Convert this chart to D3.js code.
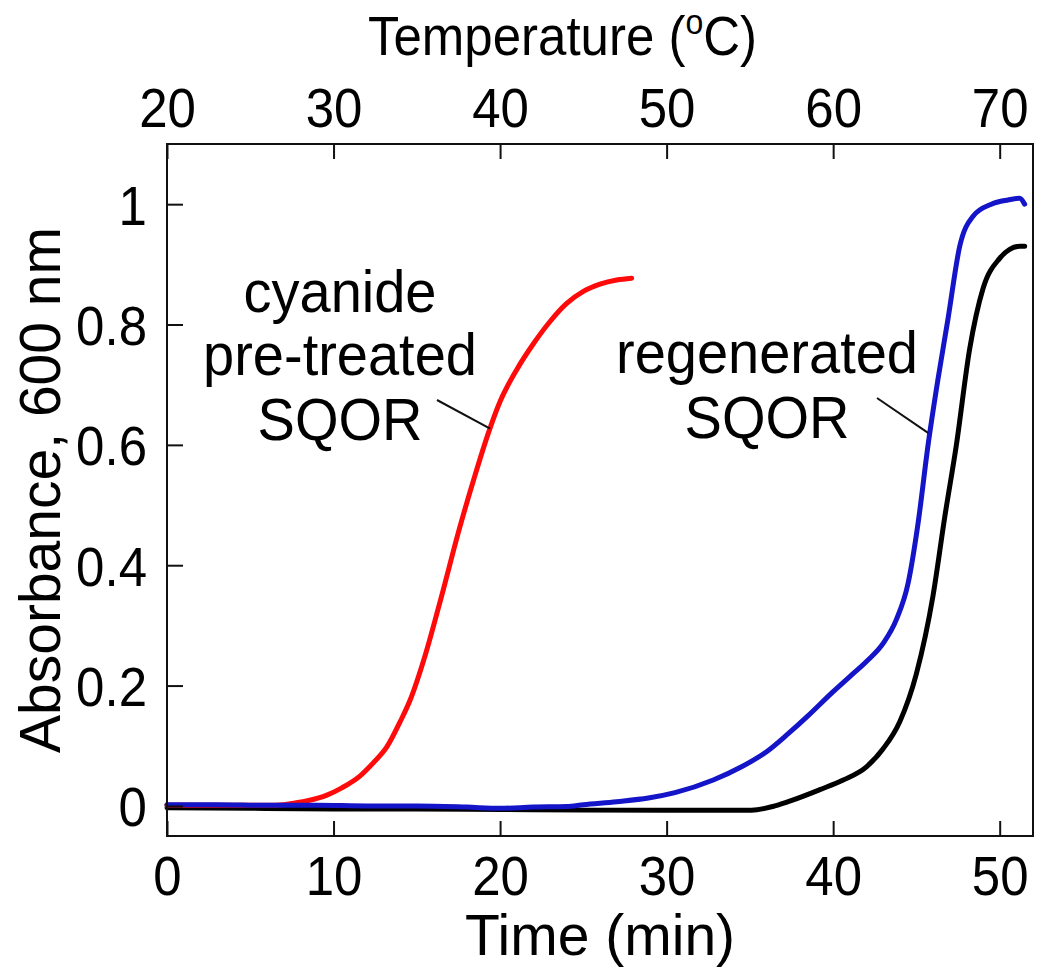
<!DOCTYPE html>
<html>
<head>
<meta charset="utf-8">
<script src="https://cdn.jsdelivr.net/npm/d3@7"></script>
<style>
  html, body { margin: 0; padding: 0; background: #fff; }
  svg { display: block; font-family: "Liberation Sans", Arial, Helvetica, sans-serif; }
</style>
</head>
<body>
<svg id="chart" width="1050" height="980"></svg>
<script>
// ---- data ----
const timeTicks = [0, 10, 20, 30, 40, 50];
const tempTicks = [20, 30, 40, 50, 60, 70];
const absTicks = [0, 0.2, 0.4, 0.6, 0.8, 1];

const redTime = [0, 2, 4, 6, 7, 7.7, 8.5, 9.6, 10.5, 11.6, 12.4, 13.2, 14, 14.6, 15.5, 16.5, 17.5, 18.5, 19.3, 20.0, 21.0, 22.0, 23.0, 24.0, 25.0, 26.0, 27.0, 27.9];
const redAbs  = [0.001, 0.001, 0.001, 0.001, 0.002, 0.005, 0.009, 0.018, 0.03, 0.05, 0.072, 0.098, 0.14, 0.176, 0.25, 0.35, 0.455, 0.55, 0.62, 0.672, 0.725, 0.768, 0.805, 0.835, 0.855, 0.867, 0.874, 0.877];

const blueTime = [0, 3, 6, 9, 12, 15, 18, 20, 22, 24, 25, 27, 28.9, 30.5, 32.8, 34.5, 36, 37.3, 38.5, 40, 41, 42, 43, 43.8, 44.5, 45.1, 45.7, 46.3, 46.9, 47.6, 48.4, 49.5, 50.5, 51.2, 51.5];
const blueAbs  = [0.002, 0.002, 0.001, 0.001, 0.0, 0.0, -0.002, -0.004, -0.002, -0.001, 0.002, 0.007, 0.013, 0.022, 0.043, 0.065, 0.09, 0.12, 0.15, 0.19, 0.215, 0.24, 0.27, 0.31, 0.37, 0.47, 0.6, 0.71, 0.81, 0.93, 0.98, 1.0, 1.007, 1.01, 1.0];

const blackTime = [0, 5, 10, 15, 20, 25, 30, 35.1, 36.5, 37.6, 39.2, 40.6, 42, 43, 44, 45, 46, 46.7, 47.4, 48.2, 49.0, 50.0, 50.6, 51.2, 51.5];
const blackAbs  = [-0.003, -0.004, -0.005, -0.005, -0.006, -0.007, -0.007, -0.007, 0.0, 0.01, 0.027, 0.043, 0.065, 0.095, 0.14, 0.22, 0.35, 0.48, 0.6, 0.76, 0.86, 0.91, 0.925, 0.93, 0.93];

// ---- layout ----
const svg = d3.select("#chart");
const L = 167, R = 1033, T = 144, B = 836;
const x = d3.scaleLinear().domain([0, 52]).range([L, R]);
const xt = d3.scaleLinear().domain([20, 72]).range([L, R]);
const y = d3.scaleLinear().domain([-0.05, 1.1]).range([B, T]);

const tickFont = 51, stretch = 1.1;

// curves (black, red below blue)
const line = d3.line().x(d => x(d[0])).y(d => y(d[1])).curve(d3.curveMonotoneX);
const series = [
  {t: blackTime, v: blackAbs, c: "#000000"},
  {t: redTime, v: redAbs, c: "#ff0a0a"},
  {t: blueTime, v: blueAbs, c: "#1414c8"}
];
series.forEach(s => {
  svg.append("path")
    .datum(s.t.map((t, i) => [t, s.v[i]]))
    .attr("fill", "none")
    .attr("stroke", s.c)
    .attr("stroke-width", 5)
    .attr("stroke-linejoin", "round")
    .attr("stroke-linecap", "round")
    .attr("d", line);
});

// frame
svg.append("rect").attr("x", L).attr("y", T).attr("width", R - L).attr("height", B - T)
  .attr("fill", "none").attr("stroke", "#111").attr("stroke-width", 2);

// axes
function styleAxis(g) {
  g.select(".domain").remove();
  g.selectAll(".tick line").attr("stroke", "#111").attr("stroke-width", 2);
  g.selectAll(".tick text").attr("fill", "#000").attr("font-size", tickFont)
    .attr("font-family", '"Liberation Sans", Arial, sans-serif');
}

const gBottom = svg.append("g").attr("transform", `translate(0,${B})`)
  .call(d3.axisBottom(x).tickValues(timeTicks).tickSize(-15).tickFormat(d3.format("d")));
styleAxis(gBottom);
gBottom.selectAll(".tick text").attr("y", 0).attr("dy", null)
  .attr("transform", `translate(0,59) scale(1,${stretch})`);

const gTop = svg.append("g").attr("transform", `translate(0,${T})`)
  .call(d3.axisTop(xt).tickValues(tempTicks).tickSize(-15).tickFormat(d3.format("d")));
styleAxis(gTop);
gTop.selectAll(".tick text").attr("y", 0).attr("dy", null)
  .attr("transform", `translate(0,-17) scale(1,${stretch})`);

const gLeft = svg.append("g").attr("transform", `translate(${L},0)`)
  .call(d3.axisLeft(y).tickValues(absTicks).tickSize(-16).tickFormat(d => d === 0 || d === 1 ? String(d) : d3.format(".1f")(d)));
styleAxis(gLeft);
gLeft.selectAll(".tick text").attr("x", 0).attr("dy", null).attr("text-anchor", "end")
  .attr("transform", `translate(-20,20) scale(1,${stretch})`);

// axis titles
svg.append("text").attr("x", 600).attr("y", 955).attr("text-anchor", "middle")
  .attr("font-size", 57).text("Time (min)");

const tt = svg.append("text").attr("transform", `translate(368,55) scale(1,1.1)`)
  .attr("font-size", 51);
tt.append("tspan").text("Temperature (");
tt.append("tspan").attr("font-size", 32).attr("dy", -19).text("o");
tt.append("tspan").attr("dy", 19).text("C)");

svg.append("text").attr("transform", `translate(60,${(T + B) / 2}) rotate(-90)`)
  .attr("text-anchor", "middle").attr("font-size", 57).text("Absorbance, 600 nm");

// annotations
const annFont = 56;
function annotate(lines, cx, baselines) {
  lines.forEach((s, i) => {
    svg.append("text").attr("transform", `translate(${cx},${baselines[i]}) scale(1,1.07)`)
      .attr("text-anchor", "middle").attr("font-size", annFont).text(s);
  });
}
annotate(["cyanide", "pre-treated", "SQOR"], 340, [312, 375, 440]);
annotate(["regenerated", "SQOR"], 767, [373, 438]);

// leader lines (anchored to curve points in data coordinates)
svg.append("line").attr("x1", 437).attr("y1", 400).attr("x2", x(19.4)).attr("y2", y(0.627))
  .attr("stroke", "#111").attr("stroke-width", 2);
svg.append("line").attr("x1", 877).attr("y1", 398).attr("x2", x(45.7)).attr("y2", y(0.62))
  .attr("stroke", "#111").attr("stroke-width", 2);
</script>
</body>
</html>
